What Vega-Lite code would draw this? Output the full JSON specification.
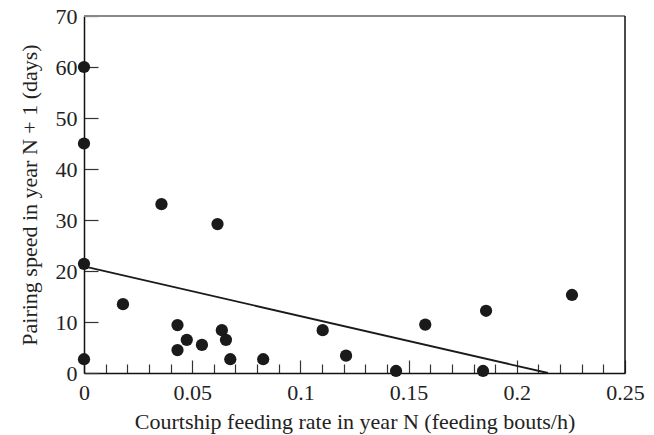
{
  "$schema": "https://vega.github.io/schema/vega-lite/v6.json",
  "width": 541,
  "height": 357,
  "autosize": {"type": "none"},
  "padding": {"left": 84, "top": 16, "right": 29, "bottom": 62},
  "background": "white",
  "config": {
    "view": {"stroke": null},
    "font": "Liberation Serif",
    "axis": {
      "labelFont": "Liberation Serif",
      "titleFont": "Liberation Serif",
      "labelFontSize": 22,
      "titleFontSize": 22,
      "titleFontWeight": "normal",
      "labelColor": "#222",
      "titleColor": "#222",
      "domainColor": "#111",
      "domainWidth": 1.5,
      "tickColor": "#333",
      "tickWidth": 1.2,
      "grid": false
    }
  },
  "layer": [
    {
      "data": {"values": [{"edge": 70}]},
      "mark": {"type": "rule", "color": "#888", "strokeWidth": 2},
      "encoding": {"y": {"field": "edge", "type": "quantitative"}}
    },
    {
      "data": {"values": [{"edge": 0.25}]},
      "mark": {"type": "rule", "color": "#111", "strokeWidth": 1.5},
      "encoding": {"x": {"field": "edge", "type": "quantitative"}}
    },
    {
      "data": {"values": [
        {"rate": 0, "speed": 20.9},
        {"rate": 0.2144, "speed": 0}
      ]},
      "mark": {"type": "line", "color": "#1a1a1a", "strokeWidth": 1.8},
      "encoding": {
        "x": {"field": "rate", "type": "quantitative"},
        "y": {"field": "speed", "type": "quantitative"}
      }
    },
    {
      "data": {"values": [
        {"rate": 0, "speed": 60},
        {"rate": 0, "speed": 45},
        {"rate": 0, "speed": 21.4},
        {"rate": 0, "speed": 2.7},
        {"rate": 0.018, "speed": 13.5},
        {"rate": 0.0358, "speed": 33.1},
        {"rate": 0.0617, "speed": 29.2},
        {"rate": 0.0432, "speed": 9.4},
        {"rate": 0.0432, "speed": 4.5},
        {"rate": 0.0475, "speed": 6.5},
        {"rate": 0.0545, "speed": 5.5},
        {"rate": 0.0637, "speed": 8.4},
        {"rate": 0.0656, "speed": 6.5},
        {"rate": 0.0676, "speed": 2.7},
        {"rate": 0.0828, "speed": 2.7},
        {"rate": 0.1103, "speed": 8.4},
        {"rate": 0.1211, "speed": 3.4},
        {"rate": 0.1442, "speed": 0.4},
        {"rate": 0.1577, "speed": 9.5},
        {"rate": 0.1844, "speed": 0.4},
        {"rate": 0.1858, "speed": 12.2},
        {"rate": 0.2255, "speed": 15.3}
      ]},
      "mark": {"type": "point", "filled": true, "size": 150, "color": "#1a1a1a", "opacity": 1},
      "encoding": {
        "x": {
          "field": "rate",
          "type": "quantitative",
          "scale": {"domain": [0, 0.25], "nice": false, "zero": false},
          "axis": {
            "title": "Courtship feeding rate in year N (feeding bouts/h)",
            "values": [0, 0.01, 0.02, 0.03, 0.04, 0.05, 0.06, 0.07, 0.08, 0.09, 0.1, 0.11, 0.12, 0.13, 0.14, 0.15, 0.16, 0.17, 0.18, 0.19, 0.2, 0.21, 0.22, 0.23, 0.24, 0.25],
            "tickCount": 40,
            "labelExpr": "abs(datum.value*20 - round(datum.value*20)) < 0.000001 ? format(datum.value, '~g') : ''",
            "labelOverlap": false,
            "labelSeparation": 0,
            "tickSize": {"condition": {"test": "abs(datum.value*20 - round(datum.value*20)) < 0.000001", "value": -13}, "value": -9},
            "labelPadding": 22,
            "labelFlush": false,
            "titlePadding": 4
          }
        },
        "y": {
          "field": "speed",
          "type": "quantitative",
          "scale": {"domain": [0, 70], "nice": false},
          "axis": {
            "title": "Pairing speed in year N + 1 (days)",
            "values": [0, 10, 20, 30, 40, 50, 60, 70],
            "tickCount": 20,
            "labelOverlap": false,
            "tickSize": -14,
            "labelPadding": 21,
            "labelFlush": false,
            "titlePadding": 14
          }
        }
      }
    }
  ]
}
